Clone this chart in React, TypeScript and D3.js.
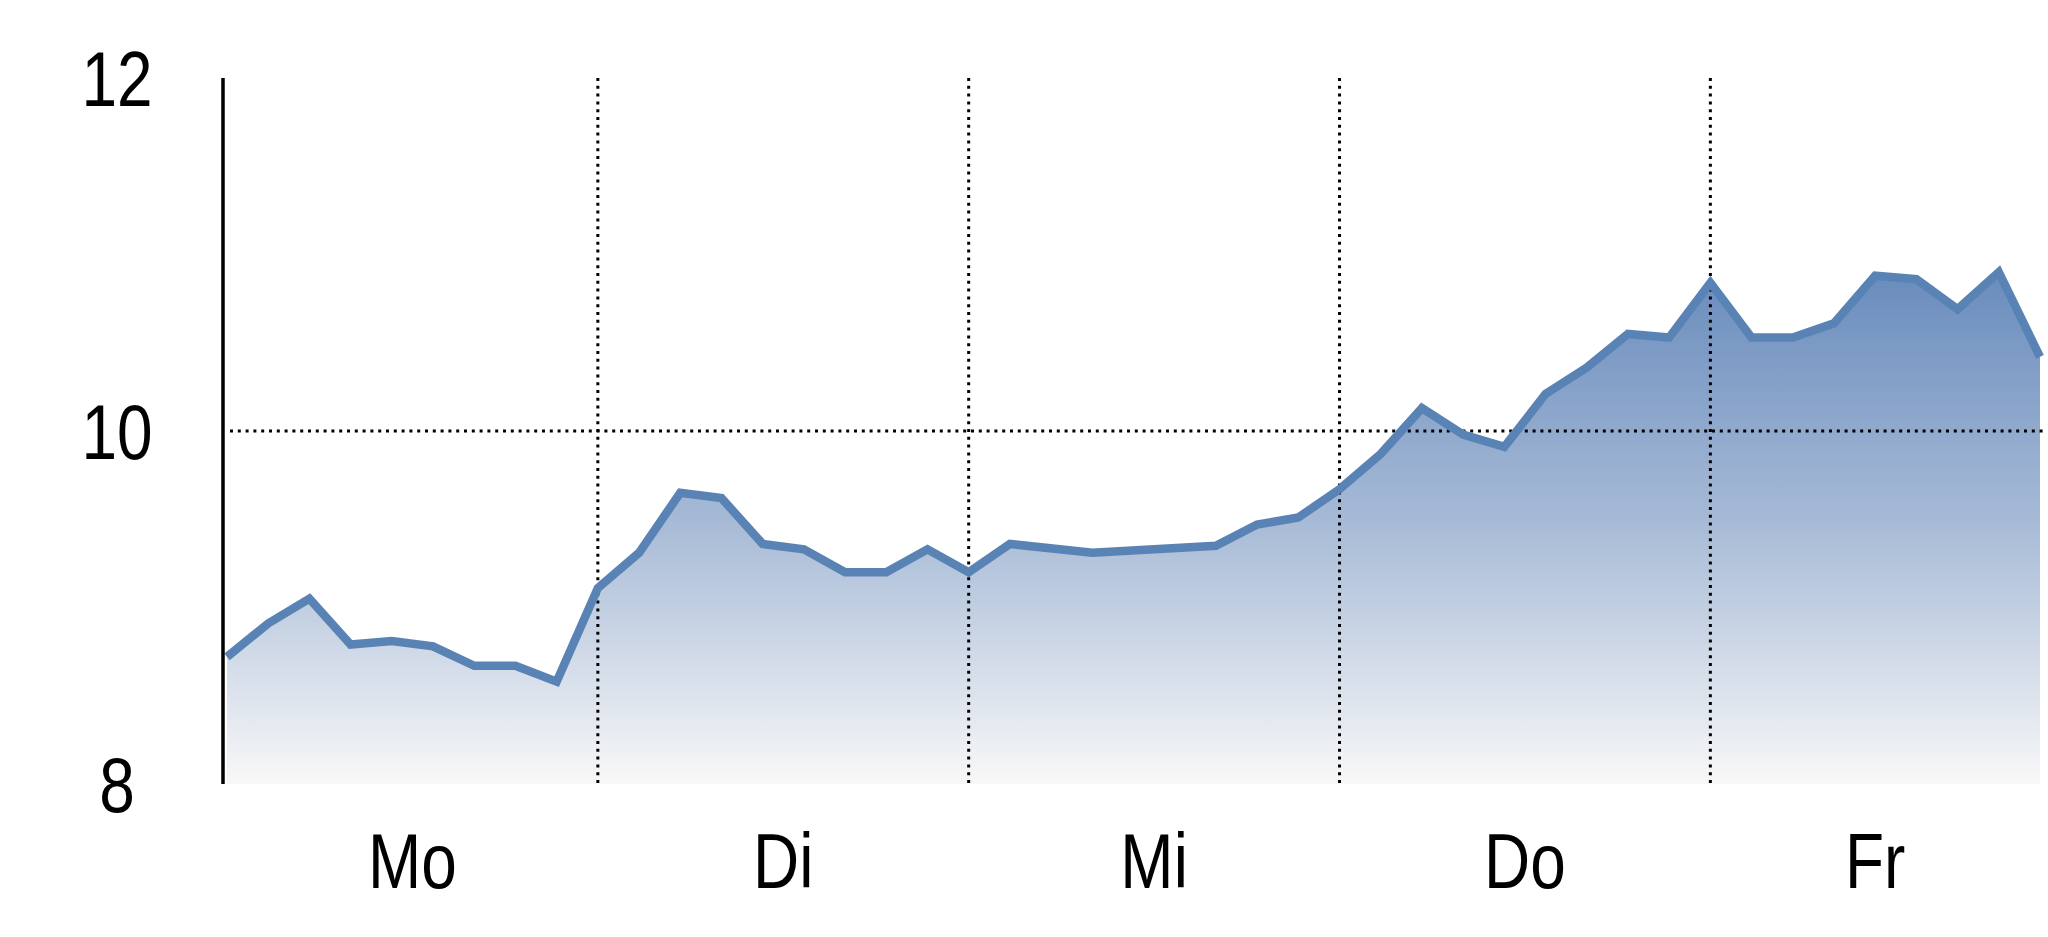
import React from "react";
import * as d3 from "d3";

const days = ["Mo", "Di", "Mi", "Do", "Fr"];
const slotsPerDay = 9;
const moValues = [8.72, 8.91, 9.05, 8.79, 8.81, 8.78, 8.67, 8.67, 8.58];
const diValues = [9.11, 9.31, 9.65, 9.62, 9.36, 9.33, 9.2, 9.2, 9.33];
const miValues = [9.2, 9.36, null, 9.31, null, null, 9.35, 9.47, 9.51];
const doValues = [9.67, 9.87, 10.13, 9.98, 9.91, 10.21, 10.36, 10.55, 10.53];
const frValues = [10.84, 10.53, 10.53, 10.61, 10.88, 10.86, 10.69, 10.9, 10.42];
const yTicks = [8, 10, 12];

const W = 2048;
const H = 937;

export default function App() {
  const dayValues = [moValues, diValues, miValues, doValues, frValues];
  const points: { t: number; v: number }[] = [];
  dayValues.forEach((vals, d) => {
    vals.forEach((v, k) => {
      if (v !== null && v !== undefined) points.push({ t: d + k / slotsPerDay, v: v as number });
    });
  });
  const tEnd = points[points.length - 1].t;

  const x = d3.scaleLinear().domain([0, tEnd]).range([227, 2040]);
  const y = d3.scaleLinear().domain([8, 12]).range([784, 78]);

  const line = d3
    .line<{ t: number; v: number }>()
    .x((p) => x(p.t))
    .y((p) => y(p.v));
  const area = d3
    .area<{ t: number; v: number }>()
    .x((p) => x(p.t))
    .y0(y(8))
    .y1((p) => y(p.v));

  const dayBounds = days.map((_, i) => i).slice(1);
  const labelX = days.map((_, i) => (x(i) + x(Math.min(i + 1, tEnd))) / 2);

  const font = "'Liberation Sans', Arial, sans-serif";
  const sx = 0.82;
  const fs = 78;

  return (
    <svg
      width={W}
      height={H}
      style={{ position: "absolute", left: 0, top: 0, background: "#fff" }}
    >
      <defs>
        <linearGradient id="fillGrad" gradientUnits="userSpaceOnUse" x1={0} x2={0} y1={y(11)} y2={y(8)}>
          <stop offset="0" stopColor="#6589bb" />
          <stop offset="0.5" stopColor="#a6bad6" />
          <stop offset="1" stopColor="#f8f8f8" />
        </linearGradient>
      </defs>
      <path d={area(points) || ""} fill="url(#fillGrad)" />
      <line
        x1={230}
        x2={2043}
        y1={y(10)}
        y2={y(10)}
        stroke="#000"
        strokeWidth={3}
        strokeDasharray="3 4.8"
      />
      {dayBounds.map((d) => (
        <line
          key={d}
          x1={x(d)}
          x2={x(d)}
          y1={y(12)}
          y2={y(8)}
          stroke="#000"
          strokeWidth={3}
          strokeDasharray="3 4.8"
        />
      ))}
      <path d={line(points) || ""} fill="none" stroke="#5a83b5" strokeWidth={8.5} />
      <line x1={223} x2={223} y1={y(12)} y2={y(8)} stroke="#000" strokeWidth={3.5} />
      {yTicks.map((t) => (
        <text
          key={t}
          transform={`translate(117,${y(t) + 28}) scale(${sx},1)`}
          textAnchor="middle"
          fontFamily={font}
          fontSize={fs}
          fill="#000"
        >
          {t}
        </text>
      ))}
      {days.map((dname, i) => (
        <text
          key={dname}
          transform={`translate(${labelX[i]},888) scale(${sx},1)`}
          textAnchor="middle"
          fontFamily={font}
          fontSize={fs}
          fill="#000"
        >
          {dname}
        </text>
      ))}
    </svg>
  );
}
